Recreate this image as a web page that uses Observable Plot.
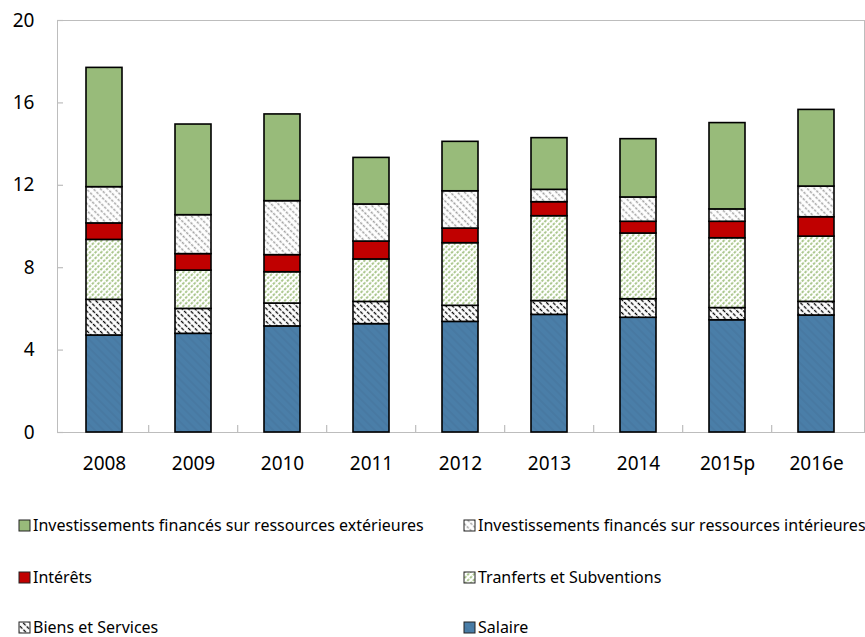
<!DOCTYPE html>
<html><head><meta charset="utf-8">
<script src="https://cdn.jsdelivr.net/npm/d3@7"></script>
<script src="https://cdn.jsdelivr.net/npm/@observablehq/plot@0.6"></script>
<style>
body{margin:0;background:#fff;font-family:"Noto Sans",sans-serif;}
#wrap{position:relative;width:865px;height:637px;overflow:hidden;}
.leg{position:absolute;height:18px;line-height:18px;display:flex;align-items:center;font-size:16px;color:#000;white-space:nowrap;}
.leg svg{margin-right:2px;flex:none}
</style></head><body>
<svg width="0" height="0" style="position:absolute"><defs>
<pattern id="pSal" patternUnits="userSpaceOnUse" width="6" height="6" patternTransform="rotate(45)">
  <rect width="6" height="6" fill="#4a7ea8"/>
  <line x1="0" y1="3" x2="6" y2="3" stroke="#46769f" stroke-width="1.2"/>
</pattern>
<pattern id="pBiens" patternUnits="userSpaceOnUse" width="5" height="4.6" patternTransform="rotate(45)">
  <rect width="5" height="4.6" fill="#fff"/>
  <line x1="0" y1="2.3" x2="5" y2="2.3" stroke="#000" stroke-width="1.3" stroke-dasharray="3.5 1.5"/>
</pattern>
<pattern id="pTrans" patternUnits="userSpaceOnUse" width="4" height="4" patternTransform="rotate(-45)">
  <rect width="4" height="4" fill="#fff"/>
  <line x1="0" y1="2" x2="4" y2="2" stroke="#8fb569" stroke-width="1.3" stroke-dasharray="2.6 1.4"/>
</pattern>
<pattern id="pInvInt" patternUnits="userSpaceOnUse" width="4" height="5" patternTransform="rotate(45)">
  <rect width="4" height="5" fill="#fff"/>
  <line x1="0" y1="2.5" x2="4" y2="2.5" stroke="#a0a0a0" stroke-width="1.4" stroke-dasharray="2.6 1.4"/>
</pattern>
</defs></svg>
<div id="wrap"><div id="chart"></div></div>
<script>
const years = ["2008","2009","2010","2011","2012","2013","2014","2015p","2016e"];
const salaire    = [4.71,4.79,5.15,5.26,5.37,5.71,5.57,5.45,5.68];
const biens      = [1.73,1.21,1.11,1.08,0.78,0.67,0.90,0.59,0.66];
const transferts = [2.91,1.86,1.52,2.06,3.04,4.12,3.19,3.39,3.17];
const interets   = [0.80,0.80,0.83,0.87,0.71,0.68,0.57,0.80,0.94];
const invInt     = [1.76,1.89,2.62,1.80,1.81,0.60,1.18,0.60,1.49];
const invExt     = [5.79,4.40,4.21,2.26,2.40,2.51,2.83,4.19,3.72];
const yTicks = [0,4,8,12,16,20];

// stacking order: bottom first
const seriesNames = ["Salaire","Biens et Services","Tranferts et Subventions","Intérêts",
  "Investissements financés sur ressources intérieures","Investissements financés sur ressources extérieures"];
const seriesValues = [salaire,biens,transferts,interets,invInt,invExt];
const seriesFills = ["url(#pSal)","url(#pBiens)","url(#pTrans)","#c00000","url(#pInvInt)","#98bb7a"];

const data = [];
seriesNames.forEach((name,i)=>years.forEach((yr,j)=>data.push({year:yr,series:name,value:seriesValues[i][j]})));

const W=865, H=490, ML=57, MR=1, MT=20, MB=58;
const step=(W-ML-MR)/years.length;
const font='"Noto Sans", sans-serif';

const chart = Plot.plot({
  width:W, height:H, marginLeft:ML, marginRight:MR, marginTop:MT, marginBottom:MB,
  style:{fontFamily:font, fontSize:"19px", color:"#000", background:"transparent", overflow:"visible"},
  x:{domain:years, paddingInner:0.59, paddingOuter:0.295, label:null},
  y:{domain:[0,20], label:null},
  color:{domain:seriesNames, range:seriesFills},
  marks:[
    Plot.frame({stroke:"#bdbdbd"}),
    Plot.tickY(yTicks,{y:d=>d, insetRight:(W-ML-MR)-6, stroke:"#bdbdbd", strokeWidth:1.2}),
    Plot.tickX(years.slice(1),{x:d=>d, dx:-step/2, insetTop:(H-MT-MB)-7, stroke:"#bdbdbd", strokeWidth:1.2}),
    Plot.barY(data,{x:"year", y:"value", fill:"series", order:seriesNames, stroke:"#000", strokeWidth:1.6}),
    Plot.axisY({ticks:yTicks, tickSize:0, tickPadding:23, fontSize:19}),
    Plot.axisX({tickSize:0, tickPadding:24, fontSize:19})
  ]
});
document.getElementById("chart").appendChild(chart);

// legend
const legendItems = [
  {name:seriesNames[5], fill:seriesFills[5], col:0, row:0},
  {name:seriesNames[4], fill:seriesFills[4], col:1, row:0},
  {name:seriesNames[3], fill:seriesFills[3], col:0, row:1},
  {name:seriesNames[2], fill:seriesFills[2], col:1, row:1},
  {name:seriesNames[1], fill:seriesFills[1], col:0, row:2},
  {name:seriesNames[0], fill:seriesFills[0], col:1, row:2}
];
const colX=[18,463], rowY=[525,577,627];
const wrap=document.getElementById("wrap");
legendItems.forEach(it=>{
  const d=document.createElement("div");
  d.className="leg";
  d.style.left=colX[it.col]+"px";
  d.style.top=(rowY[it.row]-9)+"px";
  d.innerHTML=`<svg width="13" height="13"><rect x="1" y="1" width="11" height="11" fill="${it.fill}" stroke="#222" stroke-width="1"/></svg><span>${it.name}</span>`;
  wrap.appendChild(d);
});
</script>
</body></html>
